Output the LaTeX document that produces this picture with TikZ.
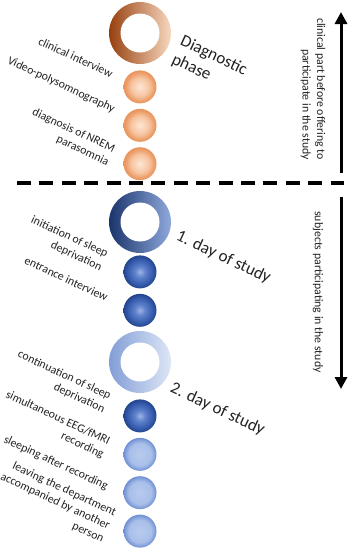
\documentclass[tikz,border=0pt]{standalone}
\usepackage{fontspec}
\setmainfont{Carlito}
\usetikzlibrary{arrows.meta,positioning}
\definecolor{inkgray}{RGB}{34,34,34}
\definecolor{ringOdark}{RGB}{150,64,14}
\definecolor{ringOlight}{RGB}{248,216,192}
\definecolor{ringBdark}{RGB}{26,52,108}
\definecolor{ringBlight}{RGB}{143,169,220}
\definecolor{ringLdark}{RGB}{130,158,214}
\definecolor{ringLlight}{RGB}{221,230,246}
\pgfdeclareradialshading{orangeball}{\pgfpoint{0bp}{0bp}}{color(0bp)=(rgb,255:red,253;green,230;blue,212); color(14bp)=(rgb,255:red,246;green,196;blue,160); color(22bp)=(rgb,255:red,236;green,156;blue,102); color(25bp)=(rgb,255:red,232;green,149;blue,94); color(50bp)=(rgb,255:red,232;green,149;blue,94)}
\pgfdeclareradialshading{blueball}{\pgfpoint{0bp}{0bp}}{color(0bp)=(rgb,255:red,157;green,180;blue,228); color(8bp)=(rgb,255:red,95;green,130;blue,204); color(18bp)=(rgb,255:red,58;green,95;blue,176); color(25bp)=(rgb,255:red,35;green,68;blue,143); color(50bp)=(rgb,255:red,35;green,68;blue,143)}
\pgfdeclareradialshading{paleball}{\pgfpoint{0bp}{0bp}}{color(0bp)=(rgb,255:red,184;green,203;blue,238); color(17bp)=(rgb,255:red,169;green,191;blue,233); color(22bp)=(rgb,255:red,135;green,163;blue,220); color(25bp)=(rgb,255:red,111;green,143;blue,210); color(50bp)=(rgb,255:red,111;green,143;blue,210)}

\begin{document}
\begin{tikzpicture}[x=1pt,y=-1pt,
 node distance=5pt,
 ring/.style={circle,minimum size=62pt,inner sep=0pt,
              path picture={\fill[white] (path picture bounding box.center) circle[radius=19.5pt];}},
 orb/.style={circle,minimum size=33pt,inner sep=0pt,shade,shading=#1},
 step label/.style={rotate=-25,anchor=east,align=right,inner sep=0pt,text=inkgray,
                    font=\fontsize{11.8}{14.5}\selectfont},
 phase/.style={rotate=-25,anchor=north west,align=left,inner sep=0pt,text=inkgray,
               font=\fontsize{17}{20}\selectfont},
 sidenote/.style={rotate=-90,align=right,inner sep=0pt,text=inkgray,
                  font=\fontsize{11.8}{14.5}\selectfont},
 bigarrow/.style={line width=3pt,-{Triangle[width=12pt,length=12pt]}},
 divider/.style={line width=4pt,dash pattern=on 14pt off 8.4pt}]
 \useasboundingbox (0,0) rectangle (354,550);
 % diagnostic phase
 \node[ring,left color=ringOdark,right color=ringOlight] (rdiag) at (140,33) {};
 \node[orb=orangeball] (c1) [below=6pt of rdiag] {};
 \node[orb=orangeball] (c2) [below=of c1] {};
 \node[orb=orangeball] (c3) [below=of c2] {};
 % first day
 \node[ring,left color=ringBdark,right color=ringBlight] (rday1) at (140,222) {};
 \node[orb=blueball] (b1) [below=2pt of rday1] {};
 \node[orb=blueball] (b2) [below=of b1] {};
 % second day
 \node[ring,left color=ringLdark,right color=ringLlight] (rday2) at (140,362) {};
 \node[orb=blueball] (d1) [below=6pt of rday2] {};
 \node[orb=paleball] (d2) [below=of d1] {};
 \node[orb=paleball] (d3) [below=of d2] {};
 \node[orb=paleball] (d4) [below=of d3] {};
 % phase titles
 \node[phase] (tdiag) at ([shift={(13,1)}]rdiag.east) {Diagnostic\\phase};
 \node[phase] (tday1) at ([shift={(9,7)}]rday1.east) {1. day of study};
 \node[phase] (tday2) at ([shift={(3,19)}]rday2.east) {2. day of study};
 % steps
 \node[step label] (lclin) at ([shift={(-11,-12.5)}]c1.west) {clinical interview};
 \node[step label] (lvpsg) at ([shift={(-9,-15.5)}]c2.west) {Video-polysomnography};
 \node[step label] (lnrem) at ([shift={(-12,-7.5)}]c3.west) {diagnosis of NREM\\parasomnia};
 \node[step label] (linit) at ([shift={(-19,-10.5)}]b1.west) {initiation of sleep\\deprivation};
 \node[step label] (lentr) at ([shift={(-16,-12.5)}]b2.west) {entrance interview};
 \node[step label] (lcont) at ([shift={(-16,-12.5)}]d1.west) {continuation of sleep\\deprivation};
 \node[step label] (leeg) at ([shift={(-17,-5.5)}]d2.west) {simultaneous EEG/fMRI\\recording};
 \node[step label] (lsleep) at ([shift={(-16,-5.5)}]d3.west) {sleeping after recording};
 \node[step label] (lleave) at ([shift={(-14,-4.5)}]d4.west) {leaving the department\\accompanied by another\\person};
 % divider between the two parts
 \coordinate (dashL) at (17,183);
 \coordinate (dashR) at (344,183);
 \draw[divider] (dashL) -- (dashR);
 % side arrows
 \node[sidenote] (nclin) at (313,89) {clinical part before offering to\\participate in the study};
 \node[sidenote] (nsubj) at (318,292) {subjects participating in the study};
 \coordinate (upTail) at (341,173);
 \coordinate (upHead) at (341,12);
 \coordinate (downTail) at (341,197);
 \coordinate (downHead) at (341,389);
 \draw[bigarrow] (upTail) -- (upHead);
 \draw[bigarrow] (downTail) -- (downHead);
\end{tikzpicture}
\end{document}
